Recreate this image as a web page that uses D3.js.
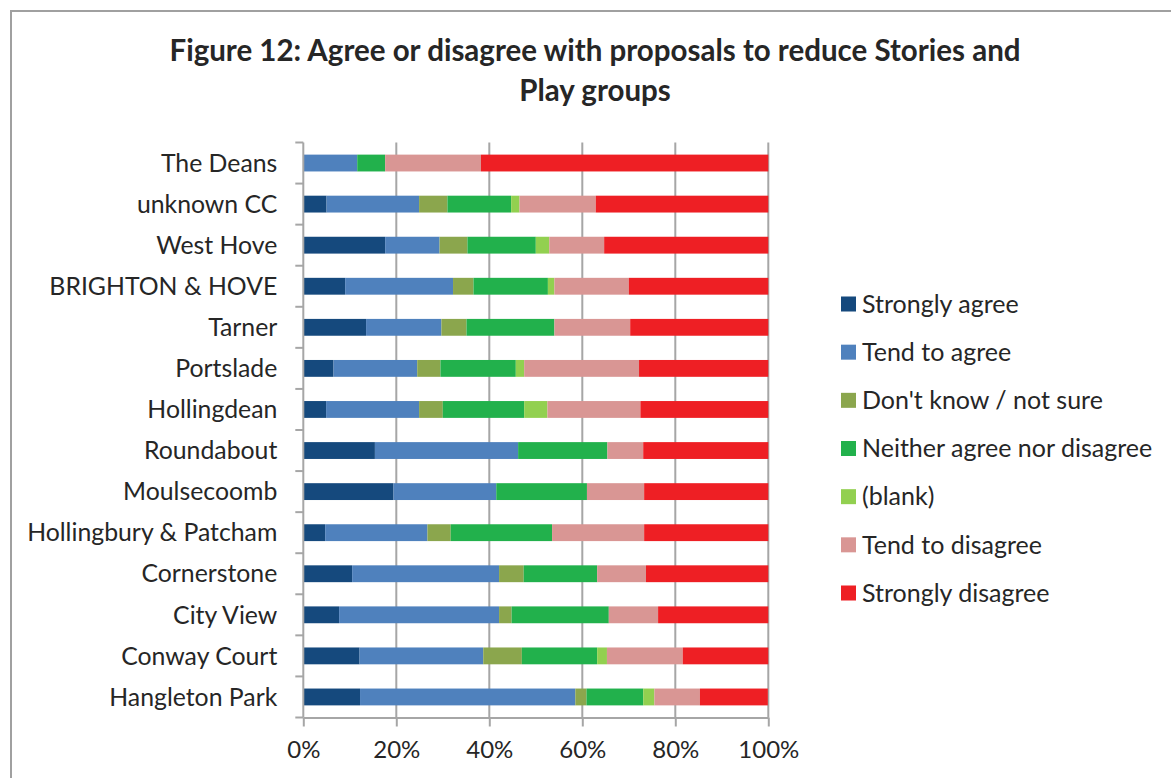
<!DOCTYPE html>
<html>
<head>
<meta charset="utf-8">
<script src="https://cdn.jsdelivr.net/npm/d3@7/dist/d3.min.js"></script>
<style>
  html, body { margin: 0; padding: 0; background: #fff; }
  svg { display: block; font-family: Lato, "Open Sans", "Noto Sans", sans-serif; }
</style>
</head>
<body>
<svg id="chart" width="1171" height="778"></svg>
<script>
// Centres, top to bottom
const categories = [
  "The Deans", "unknown CC", "West Hove", "BRIGHTON & HOVE", "Tarner",
  "Portslade", "Hollingdean", "Roundabout", "Moulsecoomb",
  "Hollingbury & Patcham", "Cornerstone", "City View", "Conway Court",
  "Hangleton Park"
];

const seriesNames = [
  "Strongly agree", "Tend to agree", "Don't know / not sure",
  "Neither agree nor disagree", "(blank)", "Tend to disagree", "Strongly disagree"
];

// Share of responses (%) per centre, one array per answer
const stronglyAgree   = [0,    5.0, 17.6,  9.0, 13.5,  6.5,  4.9, 15.4, 19.4,  4.7, 10.5,  7.7, 12.1, 12.2];
const tendToAgree     = [11.6, 19.9, 11.7, 23.2, 16.2, 18.0, 20.0, 30.8, 22.1, 22.0, 31.6, 34.4, 26.6, 46.3];
const dontKnow        = [0,     6.1,  6.0,  4.4,  5.4,  5.0,  5.1,  0,    0,    5.0,  5.3,  2.7,  8.3,  2.4];
const neither         = [6.0,  13.7, 14.7, 16.0, 18.9, 16.2, 17.5, 19.2, 19.5, 21.8, 15.8, 20.9, 16.2, 12.2];
const blank           = [0,     1.8,  2.9,  1.4,  0,    1.8,  5.0,  0,    0,    0,    0,    0,    2.1,  2.4];
const tendToDisagree  = [20.6, 16.4, 11.8, 16.0, 16.3, 24.7, 20.0,  7.7, 12.3, 19.8, 10.5, 10.6, 16.3,  9.8];
const stronglyDisagree= [61.8, 37.1, 35.3, 30.0, 29.7, 27.8, 27.5, 26.9, 26.7, 26.7, 26.3, 23.7, 18.4, 14.6];

const xTicks = [0, 20, 40, 60, 80, 100];
const colours = ["#15497d", "#4f81bd", "#8ba64d", "#22b14c", "#92d050", "#d99694", "#ee1f24"];

const seriesValues = [stronglyAgree, tendToAgree, dontKnow, neither, blank, tendToDisagree, stronglyDisagree];
const rows = categories.map((c, i) => {
  const r = { centre: c };
  seriesNames.forEach((s, k) => { r[s] = seriesValues[k][i]; });
  return r;
});
const stacked = d3.stack().keys(seriesNames)(rows);

const svg = d3.select("#chart");
const gridColour = "#a6a6a6";
const textColour = "#262626";

// outer frame
svg.append("rect")
  .attr("x", 11).attr("y", 11)
  .attr("width", 1200).attr("height", 800)
  .attr("fill", "none").attr("stroke", "#a0a0a0").attr("stroke-width", 2);

// title
const title = svg.append("text")
  .attr("text-anchor", "middle")
  .attr("font-weight", "bold")
  .attr("font-size", 29.5)
  .attr("fill", textColour);
title.append("tspan").attr("x", 595).attr("y", 61)
  .text("Figure 12: Agree or disagree with proposals to reduce Stories and");
title.append("tspan").attr("x", 595).attr("y", 101).text("Play groups");

const x = d3.scaleLinear().domain([0, 100]).range([303.3, 768.3]);
const y = d3.scaleBand().domain(categories).range([142.5, 717.5])
  .paddingInner(0.59).paddingOuter(0.295);

// vertical gridlines
svg.append("g").selectAll("line")
  .data(xTicks.filter(t => t > 0))
  .join("line")
  .attr("x1", d => x(d)).attr("x2", d => x(d))
  .attr("y1", 142.5).attr("y2", 717.5)
  .attr("stroke", gridColour).attr("stroke-width", 2);

// bars
svg.append("g").selectAll("g")
  .data(stacked)
  .join("g")
  .attr("fill", (d, i) => colours[i])
  .selectAll("rect")
  .data(d => d)
  .join("rect")
  .attr("x", d => x(d[0]))
  .attr("width", d => Math.max(0, x(d[1]) - x(d[0])))
  .attr("y", d => y(d.data.centre))
  .attr("height", y.bandwidth());

// x axis
const xAxis = svg.append("g")
  .attr("transform", "translate(0,717.5)")
  .call(d3.axisBottom(x).tickValues(xTicks).tickFormat(d => d + "%").tickSize(9).tickPadding(14).tickSizeOuter(0));
xAxis.select(".domain").attr("stroke", gridColour).attr("stroke-width", 2);
xAxis.selectAll(".tick line").attr("stroke", gridColour).attr("stroke-width", 2);
xAxis.selectAll(".tick text")
  .attr("font-family", "Lato, 'Open Sans', sans-serif")
  .attr("font-size", 24).attr("fill", textColour);

// y axis: tick marks between categories, labels centred on bars
const yAxis = svg.append("g").attr("transform", "translate(303.3,0)");
yAxis.append("line")
  .attr("y1", 142.5).attr("y2", 717.5)
  .attr("stroke", gridColour).attr("stroke-width", 2);
const step = y.step();
const bounds = categories.map(c => y(c) + y.bandwidth() / 2 - step / 2).concat([717.5]);
yAxis.selectAll("line.tk")
  .data(bounds)
  .join("line").attr("class", "tk")
  .attr("x1", -8).attr("x2", 0)
  .attr("y1", d => d).attr("y2", d => d)
  .attr("stroke", gridColour).attr("stroke-width", 2);
yAxis.selectAll("text")
  .data(categories)
  .join("text")
  .attr("x", -26)
  .attr("y", d => y(d) + y.bandwidth() / 2)
  .attr("dy", "0.35em")
  .attr("text-anchor", "end")
  .attr("font-size", 24.8)
  .attr("fill", textColour)
  .text(d => d);

// legend
const legend = svg.append("g").attr("transform", "translate(841,0)");
const ly = d3.scalePoint().domain(seriesNames).range([304, 593]);
const li = legend.selectAll("g").data(seriesNames).join("g")
  .attr("transform", d => `translate(0,${ly(d)})`);
li.append("rect")
  .attr("x", 0).attr("y", -7.5).attr("width", 15).attr("height", 15)
  .attr("fill", (d, i) => colours[i]);
li.append("text")
  .attr("x", 21).attr("dy", "0.35em")
  .attr("font-size", 25).attr("fill", textColour)
  .text(d => d);
</script>
</body>
</html>
